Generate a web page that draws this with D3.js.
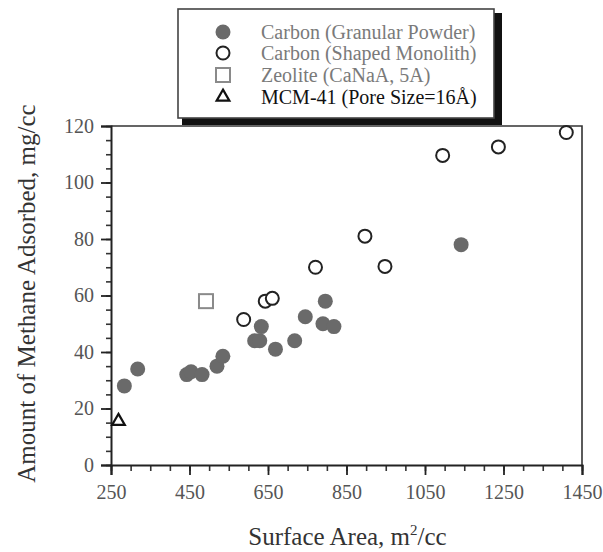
<!DOCTYPE html>
<html>
<head>
<meta charset="utf-8">
<script src="https://cdn.jsdelivr.net/npm/d3@7"></script>
<style>
  html, body { margin: 0; padding: 0; background: #fff; }
  svg { display: block; font-family: "Liberation Serif", "Times New Roman", serif; }
</style>
</head>
<body>
<div id="chart"></div>
<script>
// Surface area (m2/cc) vs methane adsorbed (mg/cc)
const granular = [
  [284, 28], [318, 34], [443, 32], [454, 33], [482, 32], [520, 35], [535, 38.5],
  [616, 44], [629, 44], [633, 49], [669, 41], [718, 44], [745, 52.5],
  [796, 58], [790, 50], [818, 49], [1142, 78]
];
const monolith = [
  [588, 51.5], [643, 58], [661, 59], [771, 70], [897, 81], [948, 70.3],
  [1095, 109.6], [1237, 112.6], [1410, 117.7]
];
const zeolite = [[492, 58]];
const mcm41 = [[269, 15.5]];

const legendLabels = [
  "Carbon (Granular Powder)",
  "Carbon (Shaped Monolith)",
  "Zeolite (CaNaA, 5A)",
  "MCM-41 (Pore Size=16\u00C5)"
];
const xTicks = [250, 450, 650, 850, 1050, 1250, 1450];
const yTicks = [0, 20, 40, 60, 80, 100, 120];

const W = 603, H = 552;
const margin = { top: 126, right: 21, bottom: 87, left: 111 };
const w = W - margin.left - margin.right, h = H - margin.top - margin.bottom;

const svg = d3.select("#chart").append("svg")
  .attr("width", W).attr("height", H).attr("viewBox", `0 0 ${W} ${H}`);
const g = svg.append("g").attr("transform", `translate(${margin.left},${margin.top})`);

const x = d3.scaleLinear().domain([250, 1450]).range([0, w]);
const y = d3.scaleLinear().domain([0, 120]).range([h, 0]);

// frame (top + right)
g.append("path")
  .attr("d", `M0,0H${w}V${h}`)
  .attr("fill", "none").attr("stroke", "#333").attr("stroke-width", 1.6);

// minor ticks
g.append("g").attr("transform", `translate(0,${h})`)
  .call(d3.axisBottom(x).tickValues(d3.range(250, 1451, 50)).tickSize(6).tickFormat(""))
  .call(s => s.select(".domain").remove())
  .selectAll("line").attr("stroke", "#333").attr("stroke-width", 1.6);
g.append("g")
  .call(d3.axisLeft(y).tickValues(d3.range(0, 121, 5)).tickSize(5).tickFormat(""))
  .call(s => s.select(".domain").remove())
  .selectAll("line").attr("stroke", "#333").attr("stroke-width", 1.6);

// major ticks + labels
const xa = g.append("g").attr("transform", `translate(0,${h})`)
  .call(d3.axisBottom(x).tickValues(xTicks).tickSize(10).tickPadding(10).tickFormat(d3.format("d")));
const ya = g.append("g")
  .call(d3.axisLeft(y).tickValues(yTicks).tickSize(10).tickPadding(7).tickFormat(d3.format("d")));
[xa, ya].forEach(a => {
  a.select(".domain").attr("stroke", "#222").attr("stroke-width", 2);
  a.selectAll("line").attr("stroke", "#222").attr("stroke-width", 1.8);
  a.selectAll("text").attr("fill", "#555").attr("font-size", 20)
    .attr("font-family", "'Liberation Serif', 'Times New Roman', serif");
});

// axis titles
svg.append("text")
  .attr("x", margin.left + w / 2 + 1).attr("y", 545)
  .attr("text-anchor", "middle").attr("font-size", 25).attr("fill", "#333")
  .call(t => {
    t.append("tspan").text("Surface Area, m");
    t.append("tspan").attr("dy", -10).attr("font-size", 15).text("2");
    t.append("tspan").attr("dy", 10).text("/cc");
  });
svg.append("text")
  .attr("transform", `translate(35,${margin.top + h / 2 - 2}) rotate(-90)`)
  .attr("text-anchor", "middle").attr("font-size", 25).attr("fill", "#333")
  .text("Amount of Methane Adsorbed, mg/cc");

// points
g.selectAll("circle.gran").data(granular).join("circle").attr("class", "gran")
  .attr("cx", d => x(d[0])).attr("cy", d => y(d[1])).attr("r", 7.5)
  .attr("fill", "#6a6a6a");
g.selectAll("circle.mono").data(monolith).join("circle").attr("class", "mono")
  .attr("cx", d => x(d[0])).attr("cy", d => y(d[1])).attr("r", 6.5)
  .attr("fill", "#fff").attr("stroke", "#222").attr("stroke-width", 2);
g.selectAll("rect.zeo").data(zeolite).join("rect").attr("class", "zeo")
  .attr("x", d => x(d[0]) - 7).attr("y", d => y(d[1]) - 7)
  .attr("width", 14).attr("height", 14)
  .attr("fill", "#fff").attr("stroke", "#8a8a8a").attr("stroke-width", 2);
const tri = d3.symbol().type(d3.symbolTriangle).size(70);
g.selectAll("path.mcm").data(mcm41).join("path").attr("class", "mcm")
  .attr("transform", d => `translate(${x(d[0])},${y(d[1])})`)
  .attr("d", tri).attr("fill", "none").attr("stroke", "#111").attr("stroke-width", 2.2);

// legend with drop shadow
const lg = svg.append("g");
lg.append("rect").attr("x", 182).attr("y", 13).attr("width", 320).attr("height", 112).attr("fill", "#111");
lg.append("rect").attr("x", 178).attr("y", 9).attr("width", 316).attr("height", 109)
  .attr("fill", "#fff").attr("stroke", "#444").attr("stroke-width", 1.6);
const rowY = [32, 53, 75, 97];
const textFill = ["#7a7a7a", "#7a7a7a", "#7a7a7a", "#111"];
legendLabels.forEach((lab, i) => {
  const cx = 223, cy = rowY[i];
  if (i === 0) lg.append("circle").attr("cx", cx).attr("cy", cy).attr("r", 7.5).attr("fill", "#6a6a6a");
  if (i === 1) lg.append("circle").attr("cx", cx).attr("cy", cy).attr("r", 6.5)
    .attr("fill", "#fff").attr("stroke", "#222").attr("stroke-width", 2);
  if (i === 2) lg.append("rect").attr("x", cx - 7).attr("y", cy - 7).attr("width", 14).attr("height", 14)
    .attr("fill", "#fff").attr("stroke", "#8a8a8a").attr("stroke-width", 2);
  if (i === 3) lg.append("path").attr("transform", `translate(${cx},${cy})`).attr("d", tri)
    .attr("fill", "none").attr("stroke", "#111").attr("stroke-width", 2.2);
  lg.append("text").attr("x", 261).attr("y", cy + 7).attr("font-size", 20)
    .attr("fill", textFill[i]).text(lab);
});
</script>
</body>
</html>
